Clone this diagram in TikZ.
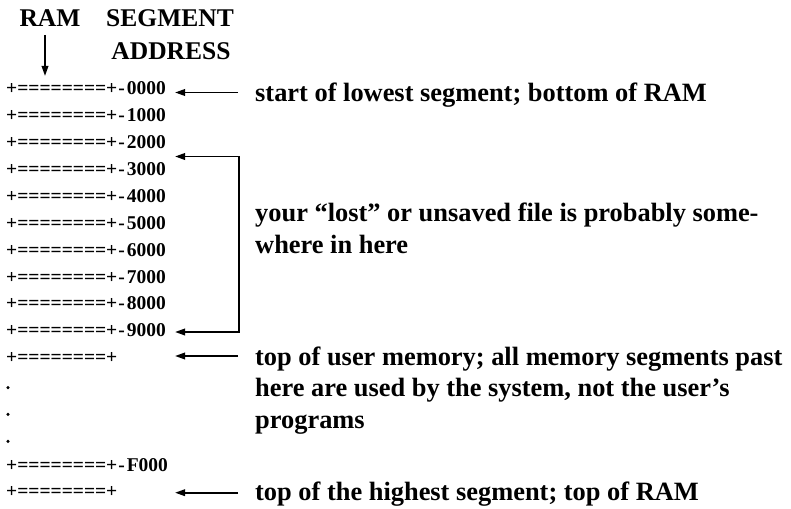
\documentclass[tikz,border=0pt]{standalone}
\usepackage{fontspec}
\setmainfont{Liberation Serif}
\usetikzlibrary{arrows.meta}
\begin{document}
\begin{tikzpicture}[x=1pt,y=-1pt,
  hdr/.style={font=\fontsize{25.5}{27}\selectfont\bfseries, inner sep=0pt, anchor=base},
  row/.style={font=\fontsize{19.5}{21}\selectfont\bfseries, inner sep=0pt, anchor=base west},
  note/.style={font=\fontsize{26.4}{31.7}\selectfont\bfseries, inner sep=0pt, anchor=base west, align=left},
  arr/.style={line width=1.8pt, -{Triangle[length=10pt,width=6.5pt]}},
  brk/.style={line width=1.9pt, {Triangle[length=10pt,width=6.5pt]}-{Triangle[length=10pt,width=6.5pt]}},
  dotn/.style={circle, fill, inner sep=0pt, minimum size=3.4pt}]
\useasboundingbox (0,0) rectangle (791,508);
% headers
\node[hdr] (ram) at (50,27) {RAM};
\node[hdr] (seg) at (170,27) {SEGMENT};
\node[hdr] (addr) at (171,60) {ADDRESS};
\coordinate (ramtail) at (45,35);
\coordinate (ramtip) at (45,76);
\draw[arr] (ramtail) -- (ramtip);
% rows
\def\eqs{+========+}
\def\addr#1{\eqs\kern1pt-\kern2pt#1}
\node[row] (r0) at (6,95.00) {\addr{0000}};
\node[row] (r1) at (6,121.87) {\addr{1000}};
\node[row] (r2) at (6,148.74) {\addr{2000}};
\node[row] (r3) at (6,175.61) {\addr{3000}};
\node[row] (r4) at (6,202.48) {\addr{4000}};
\node[row] (r5) at (6,229.35) {\addr{5000}};
\node[row] (r6) at (6,256.22) {\addr{6000}};
\node[row] (r7) at (6,283.09) {\addr{7000}};
\node[row] (r8) at (6,309.96) {\addr{8000}};
\node[row] (r9) at (6,336.83) {\addr{9000}};
\node[row] (ru) at (6,363.70) {\eqs};
\node[dotn] (d1) at (8,387.6) {};
\node[dotn] (d2) at (8,414.4) {};
\node[dotn] (d3) at (8,441.3) {};
\node[row] (rf) at (6,471.05) {\addr{F000}};
\node[row] (rl) at (6,497.92) {\eqs};
% notes (base anchor = last line's baseline)
\node[note] (t1) at (255,101.5) {start of lowest segment; bottom of RAM};
\node[note] (t2) at (255,253.4) {your “lost” or unsaved file is probably some-\\where in here};
\node[note] (t3) at (255,428.4) {top of user memory; all memory segments past\\here are used by the system, not the user’s\\programs};
\node[note] (t5) at (255,500) {top of the highest segment; top of RAM};
% arrows
\coordinate (a0s) at (238,92.5);
\coordinate (a0e) at (175,92.5);
\draw[arr] (a0s) -- (a0e);
\coordinate (bx) at (239,0);
\coordinate (b2e) at (175,156.5);
\coordinate (b9e) at (175,332);
\draw[brk] (b2e) -- (b2e -| bx) -- (b9e -| bx) -- (b9e);
\coordinate (aus) at (238,356);
\coordinate (aue) at (175,356);
\draw[arr] (aus) -- (aue);
\coordinate (als) at (238,492.7);
\coordinate (ale) at (175,492.7);
\draw[arr] (als) -- (ale);
\end{tikzpicture}
\end{document}
